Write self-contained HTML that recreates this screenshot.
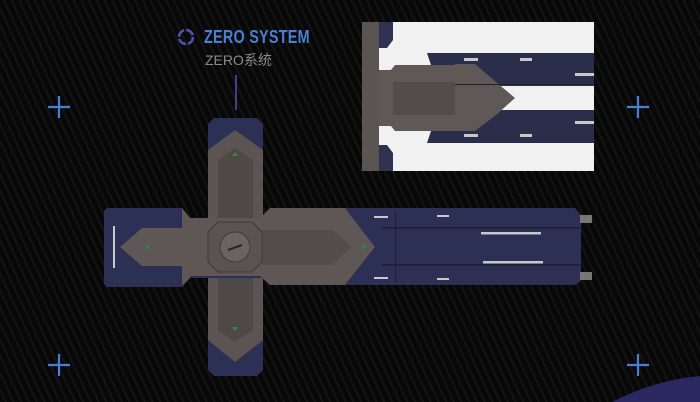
<!DOCTYPE html>
<html><head><meta charset="utf-8"><style>
html,body{margin:0;padding:0}
body{width:700px;height:402px;overflow:hidden;position:relative;
background:repeating-linear-gradient(65deg,#080808 0px,#080808 4px,#181818 5px,#080808 7px);}
.t1{position:absolute;left:204px;top:27px;font:bold 18px "Liberation Sans",sans-serif;color:#4a7fd4;transform:scaleX(0.8);transform-origin:left;letter-spacing:0.3px}
.t2{position:absolute;left:205px;top:50px;font:14px "Liberation Sans","Noto Sans CJK SC",sans-serif;color:#8a8a8a}
svg{position:absolute;left:0;top:0}
</style></head><body>
<svg width="700" height="402" viewBox="0 0 700 402">
<path d="M612 402 Q655 380 700 376 L700 402 Z" fill="#2b2760"/>
<g stroke="#4a7fd4" stroke-width="2.2">
<path d="M48 107h22M59 96v22"/><path d="M627 107h22M638 96v22"/>
<path d="M48 365h22M59 354v22"/><path d="M627 365h22M638 354v22"/>
</g>
<circle cx="186" cy="37" r="7" fill="none" stroke="#5a4fb0" stroke-width="2.5" stroke-dasharray="9 2"/>
<line x1="236" y1="75" x2="236" y2="110" stroke="#5a4fb0" stroke-width="1.5"/>
<!-- inset -->
<rect x="362" y="22" width="232" height="149" fill="#f1f1f1"/>
<rect x="362" y="22" width="17" height="149" fill="#5a5452"/>
<path d="M379 22h14v18l-6 8h-8z" fill="#2f3250"/>
<path d="M379 171h14v-18l-6-8h-8z" fill="#2f3250"/>
<path d="M438 53h156v33h-156l-11-33z" fill="#2b2e4a"/>
<path d="M438 110h156v33h-167z" fill="#2b2e4a"/>
<path d="M379 70h12l4-5h60l20 18 0 14 0 0 16 0-16 18-18 16h-62l-4-5h-12z" fill="#5f5856"/>
<path d="M379 70h12l4-5h60l20 18 18 0-0 0 0 0" fill="none"/>
<path d="M393 82h60l22 0 0 0 16 16-16 17-22 0h-60z" fill="#524c4a"/>
<path d="M455 64h20l21 18 19 16-19 17-21 16h-20z" fill="#5f5856"/>
<rect x="455" y="84" width="139" height="1" fill="#1e2036"/>
<!-- vertical bar -->
<path d="M214 118h43l6 6v246l-6 6h-43l-6-6V124z" fill="#2d3055"/>
<path d="M208 150l27-20 28 20v190l-28 22-27-22z" fill="#5b5452"/>
<path d="M208 150h55v190h-55z" fill="#5b5452"/>
<path d="M218 160l17-12 18 12v170l-18 12-17-12z" fill="#4e4846"/>
<!-- horizontal bar -->
<path d="M107 208h75l8 10h160l-5-10h230l6 7v66l-6 4h-225l5-7h-165l-8 9h-75l-3-3v-73z" fill="#2d3055"/>
<path d="M190 218h70l10-10h75l0 0 30 39-30 38h-75l-10-9h-70l-8 9v-77z" fill="#5e5755"/>
<path d="M182 214l8 4v60l-8 8z" fill="#5e5755"/>
<path d="M120 247l22-19h48v38h-48z" fill="#5e5755"/>
<path d="M262 230h70l20 17-20 18h-70z" fill="#524c4a"/>
<path d="M345 208h35v77h-35l30-38z" fill="#2d3055"/>
<rect x="382" y="227" width="198" height="1.5" fill="#1c1e34"/>
<rect x="382" y="264" width="198" height="1.5" fill="#1c1e34"/>
<rect x="395" y="211" width="1" height="72" fill="#1c1e34"/>
<path d="M580 215h12v8h-12zM580 272h12v8h-12z" fill="#777"/>
<!-- center hub -->
<path d="M218 222h34l10 10v30l-10 10h-34l-10-10v-30z" fill="#5a5351" stroke="#3e3938"/>
<circle cx="235" cy="247" r="15" fill="#6a6361" stroke="#3f3a39"/>
<line x1="228" y1="250" x2="242" y2="245" stroke="#2a2625" stroke-width="2"/>
<g fill="#c8c8c8">
<rect x="113" y="226" width="2" height="42"/><rect x="481" y="232" width="60" height="2.5"/><rect x="483" y="261" width="60" height="2.5"/>
<rect x="374" y="216" width="14" height="2"/><rect x="437" y="215" width="12" height="2"/>
<rect x="374" y="277" width="14" height="2"/><rect x="437" y="278" width="12" height="2"/>
<rect x="464" y="42" width="0" height="0"/>
<rect x="464" y="58" width="14" height="3"/><rect x="520" y="58" width="12" height="3"/>
<rect x="575" y="73" width="19" height="3"/><rect x="575" y="121" width="19" height="3"/>
<rect x="464" y="134" width="14" height="3"/><rect x="520" y="134" width="12" height="3"/>
</g>
<g fill="#2f8a3a">
<path d="M235 152l3 4h-6z"/><path d="M235 331l3-4h-6z"/><path d="M145 247l4-3v6z"/><path d="M366 247l-4-3v6z"/>
</g>
</svg>
<div class="t1">ZERO SYSTEM</div>
<div class="t2">ZERO系统</div>
</body></html>
